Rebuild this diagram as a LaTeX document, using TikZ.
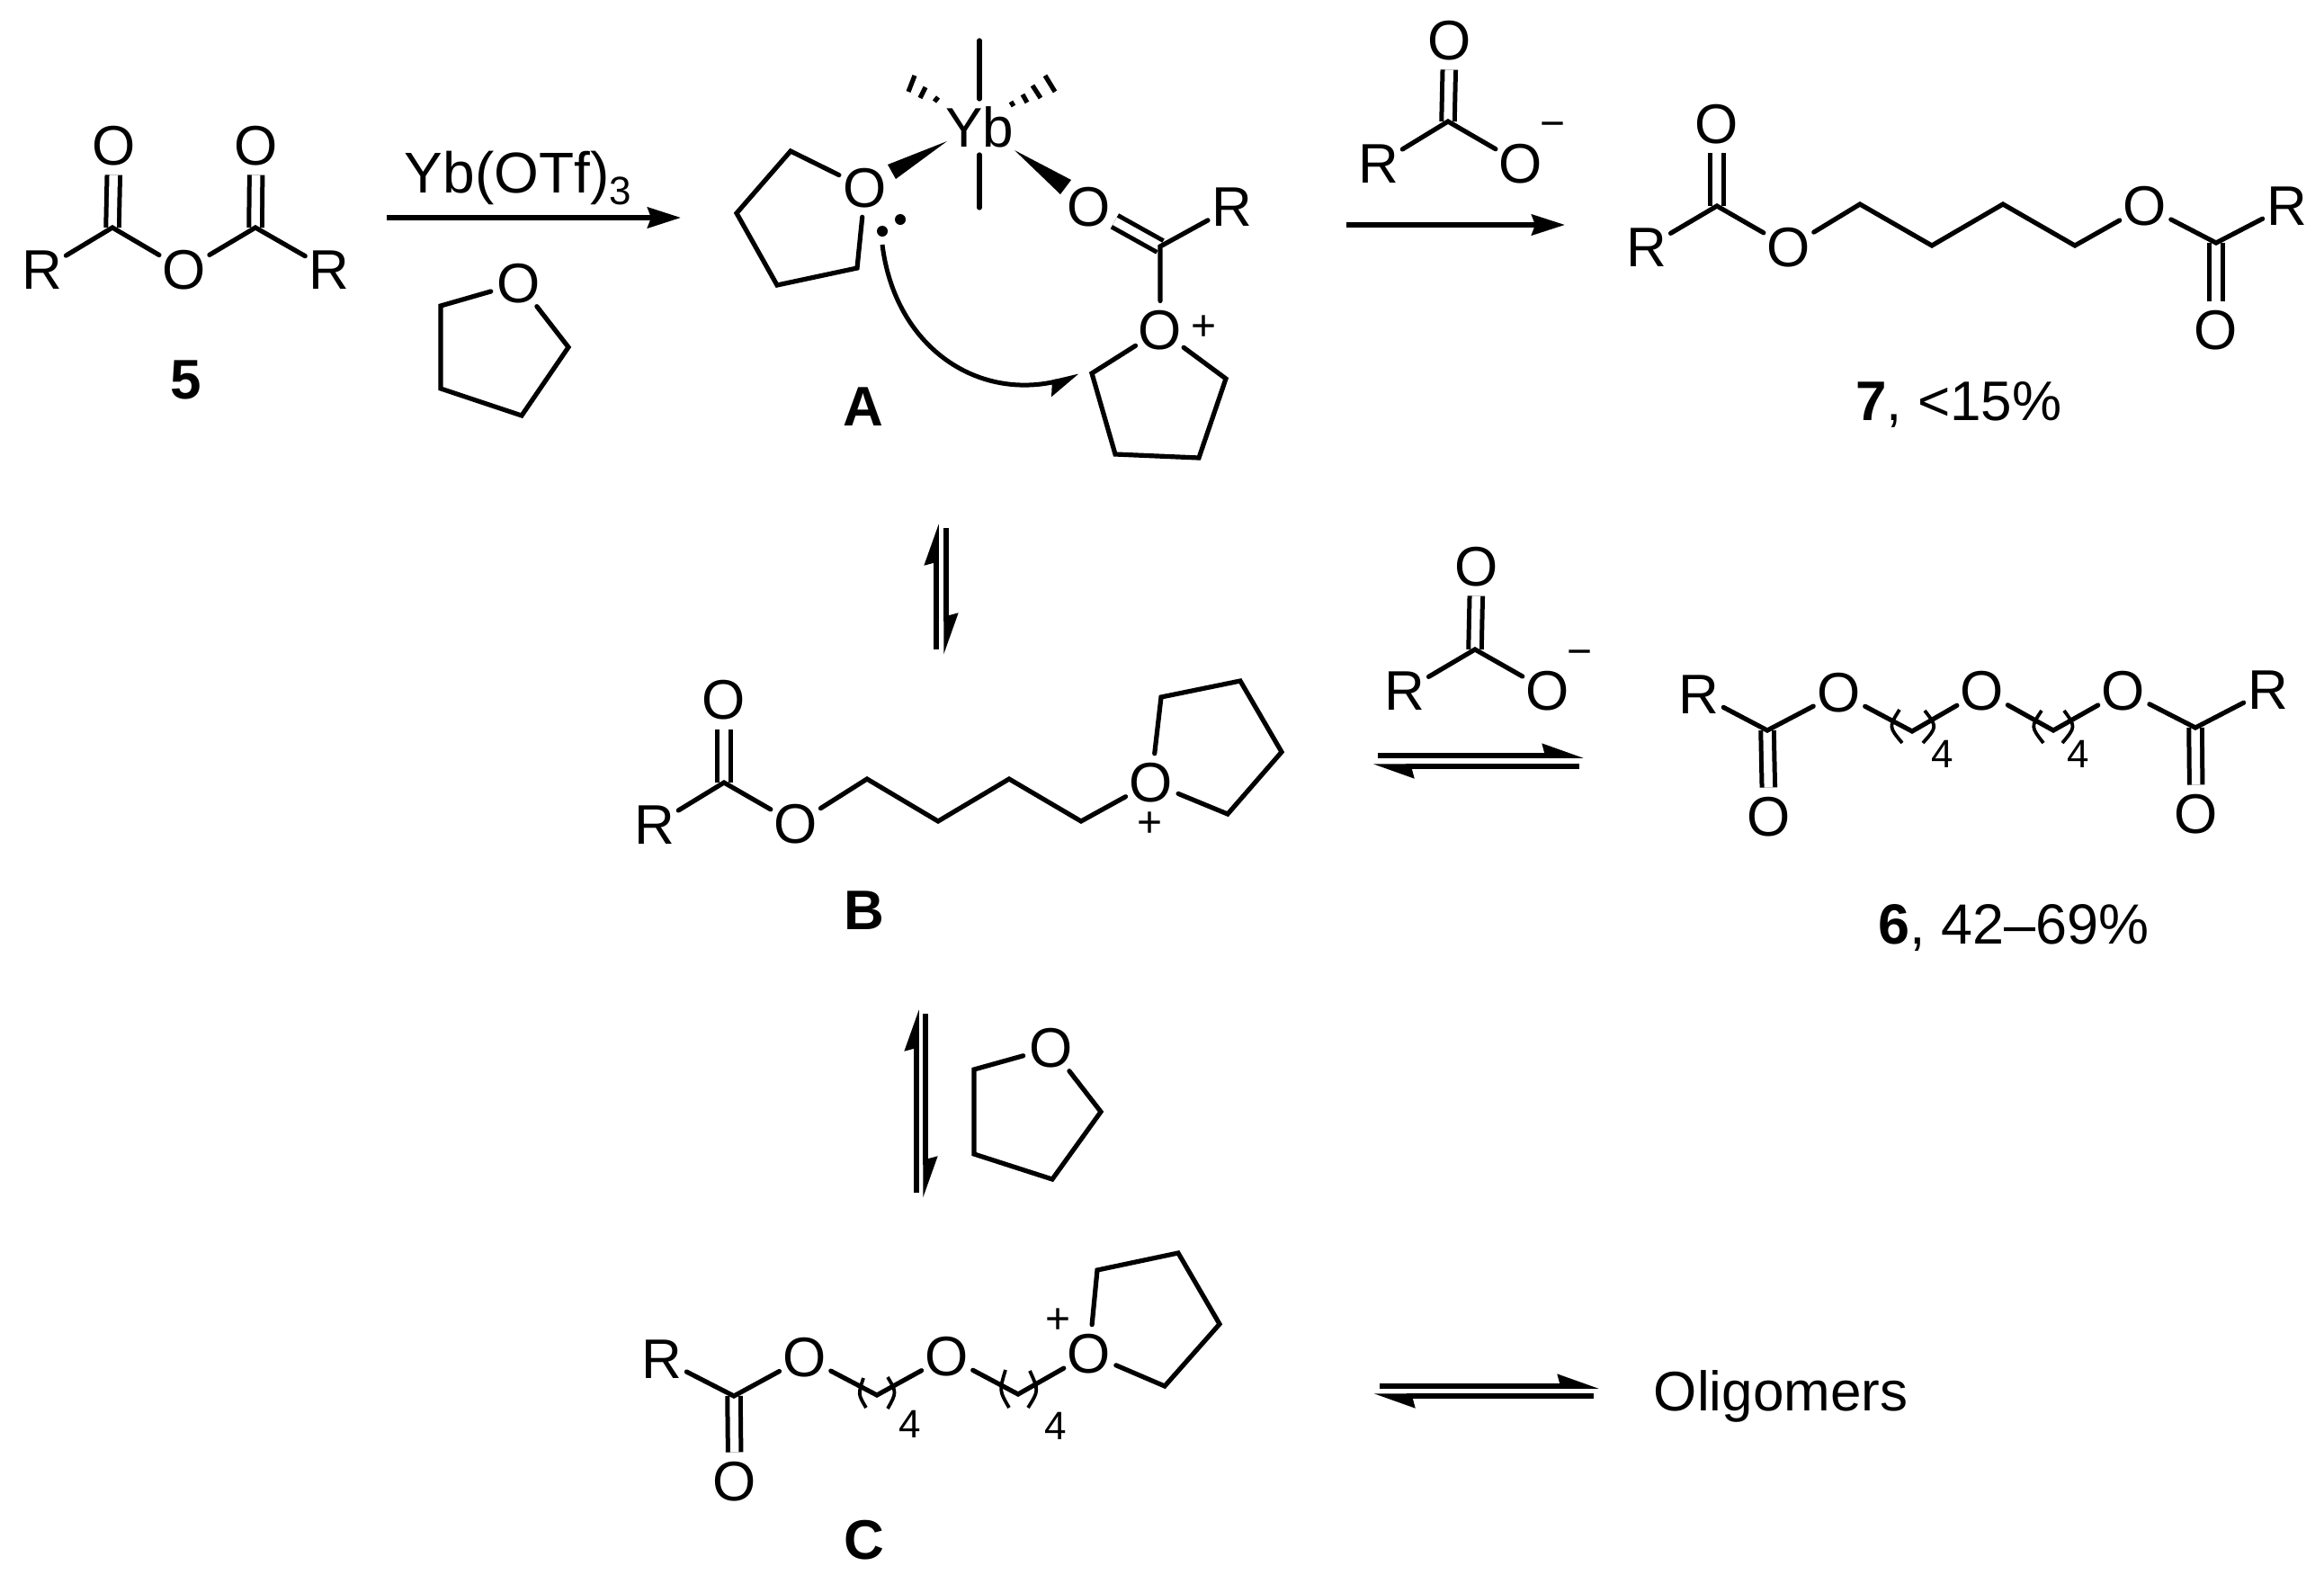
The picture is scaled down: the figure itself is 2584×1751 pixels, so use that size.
\documentclass[tikz,border=0pt]{standalone}
\usepackage{fontspec}
\setmainfont{Liberation Sans}
\usepackage{tikz}
\usetikzlibrary{arrows.meta}
\tikzset{
    atom/.style={
    circle,inner sep=0pt,outer sep=0pt,font=\fontsize{62}{74}\selectfont
    },
    label/.style={
    inner sep=0pt,font=\fontsize{62}{74}\selectfont
    },
    charge/.style={
    inner sep=0pt,font=\fontsize{48}{56}\selectfont
    },
    repeats/.style={
    inner sep=0pt,font=\fontsize{44}{52}\selectfont
    },
    bond/.style={
    line width=5.2pt,line cap=round,line join=miter
    },
    dbond/.style={
    line width=5pt,double,double distance=9.5pt
    },
    paren/.style={
    line width=3.8pt
    },
    rxn/.style={
    line width=5.5pt,-{Stealth[length=37pt,width=23pt,inset=4pt]}
    },
    eqm/.style={
    line width=5.5pt,-{Stealth[length=38pt,width=26pt,inset=3pt,harpoon]}
    },
    curly/.style={
    line width=5pt,-{Stealth[length=30pt,width=30pt,inset=4pt,harpoon,swap]}
    },
    lonepair/.style={
    circle,fill=black,inner sep=0pt,minimum size=12pt
    },
}
\begin{document}
\begin{tikzpicture}[x=1pt,y=-1pt]
  \useasboundingbox (0,0) rectangle (2584,1751);

  % anhydride 5
  \node[atom] (R5a) at (47,300) {R};
  \node[atom] (O5a) at (127,162) {O};
  \node[atom] (O5b) at (205,300) {O};
  \node[atom] (O5c) at (285,162) {O};
  \node[atom] (R5b) at (366,300) {R};
  \coordinate (C5a) at (125,253);
  \coordinate (C5b) at (284,253);
  \node[label,font=\fontsize{62}{74}\selectfont\bfseries] (L5) at (207,422) {5};
  \path (C5a) edge [dbond] (O5a)
        (C5b) edge [dbond] (O5c);
  \draw[bond] (R5a) -- (C5a) -- (O5b) -- (C5b) -- (R5b);

  % first arrow, catalyst and thf
  \coordinate (A1s) at (430,242);
  \coordinate (A1e) at (757,242);
  \draw[rxn] (A1s) -- (A1e);
  \node[label,font=\fontsize{64}{74}\selectfont] (cat) at (576,198) {Yb(OTf)\raisebox{-0.2em}{\fontsize{44}{50}\selectfont 3}};
  \node[atom] (Ot1) at (577,315) {O};
  \coordinate (t1a) at (490,340);
  \coordinate (t1b) at (490,432);
  \coordinate (t1c) at (580,462);
  \coordinate (t1d) at (632,386);
  \draw[bond] (Ot1) -- (t1a) -- (t1b) -- (t1c) -- (t1d) -- (Ot1);

  % complex A
  \node[label,inner ysep=8pt] (Yb) at (1089,141) {Yb};
  \coordinate (YbUp) at (1089,45);
  \coordinate (YbDn) at (1089,231);
  \path (Yb) edge [bond] (YbUp)
        (Yb) edge [bond] (YbDn);
  \foreach \xa/\ya/\xb/\yb in {1010/102/1017/84,1023/109/1029/97,1039/113/1043/108,
    1124/113/1127/118,1137/105/1142/114,1148/95/1157/109,1162/84/1173/102}
    \draw[bond,line cap=butt] (\xa,\ya) -- (\xb,\yb);
  \node[atom] (OA1) at (962,209) {O};
  \coordinate (a1) at (879,168);
  \coordinate (a2) at (819,237);
  \coordinate (a3) at (864,317);
  \coordinate (a4) at (953,298);
  \draw[bond] (OA1) -- (a1) -- (a2) -- (a3) -- (a4) -- (OA1);
  \coordinate (wa) at (1053,157);
  \coordinate (wb) at (987,183);
  \coordinate (wc) at (996,199);
  \fill (wa) -- (wb) -- (wc) -- cycle;
  \coordinate (wd) at (1128,167);
  \coordinate (we) at (1191,200);
  \coordinate (wf) at (1179,216);
  \fill (wd) -- (we) -- (wf) -- cycle;
  \node[lonepair] (lp1) at (1001,244) {};
  \node[lonepair] (lp2) at (981,257) {};
  \node[atom] (OA2) at (1211,230) {O};
  \node[atom] (RA) at (1370,230) {R};
  \coordinate (CA) at (1290,274);
  \node[atom] (OA3) at (1290,367) {O};
  \node[charge] (pA) at (1339,365) {+};
  \coordinate (a5) at (1214,415);
  \coordinate (a6) at (1240,505);
  \coordinate (a7) at (1333,509);
  \coordinate (a8) at (1363,421);
  \path (CA) edge [dbond] (OA2);
  \draw[bond] (RA) -- (CA) -- (OA3);
  \draw[bond] (OA3) -- (a5) -- (a6) -- (a7) -- (a8) -- (OA3);
  \coordinate (ca) at (981,272);
  \coordinate (cb) at (1200,418);
  \draw[curly] (ca) .. controls (995,385) and (1085,445) .. (cb);
  \node[label,font=\fontsize{62}{74}\selectfont\bfseries] (LA) at (960,452) {A};

  % carboxylate and product 7
  \node[atom] (R7x) at (1533,182) {R};
  \node[atom] (O7x) at (1612,45) {O};
  \node[atom] (O7y) at (1691,182) {O};
  \coordinate (C7x) at (1610,135);
  \node[charge] (m7) at (1726,145) {−};
  \path (C7x) edge [dbond] (O7x);
  \draw[bond] (R7x) -- (C7x) -- (O7y);
  \coordinate (A2s) at (1497,250);
  \coordinate (A2e) at (1740,250);
  \draw[rxn] (A2s) -- (A2e);
  \node[atom] (R7a) at (1831,275) {R};
  \node[atom] (O7a) at (1909,138) {O};
  \node[atom] (O7b) at (1989,275) {O};
  \node[atom] (O7c) at (2385,229) {O};
  \node[atom] (R7b) at (2543,229) {R};
  \node[atom] (O7d) at (2464,367) {O};
  \coordinate (C7a) at (1909,229);
  \coordinate (C7b) at (2464,270);
  \coordinate (c71) at (2068,227);
  \coordinate (c72) at (2148,273);
  \coordinate (c73) at (2227,227);
  \coordinate (c74) at (2307,273);
  \path (C7a) edge [dbond] (O7a)
        (C7b) edge [dbond] (O7d);
  \draw[bond] (R7a) -- (C7a) -- (O7b) -- (c71) -- (c72) -- (c73) -- (c74) -- (O7c) -- (C7b) -- (R7b);
  \node[label] (L7) at (2178,450) {\textbf{7}, <15\%};

  % equilibrium A to B
  \coordinate (E1a) at (1041,722);
  \coordinate (E1b) at (1041,582);
  \coordinate (E1c) at (1052,587);
  \coordinate (E1d) at (1052,728);
  \draw[eqm] (E1a) -- (E1b);
  \draw[eqm] (E1c) -- (E1d);

  % oxonium B
  \node[atom] (RB) at (728,917) {R};
  \node[atom] (OB1) at (805,778) {O};
  \node[atom] (OB2) at (885,916) {O};
  \node[atom] (OB3) at (1280,870) {O};
  \node[charge] (pB) at (1279,917) {+};
  \coordinate (CB) at (805,870);
  \coordinate (b1) at (964,866);
  \coordinate (b2) at (1043,913);
  \coordinate (b3) at (1122,866);
  \coordinate (b4) at (1202,913);
  \coordinate (b5) at (1291,775);
  \coordinate (b6) at (1379,757);
  \coordinate (b7) at (1425,836);
  \coordinate (b8) at (1365,905);
  \path (CB) edge [dbond] (OB1);
  \draw[bond] (RB) -- (CB) -- (OB2) -- (b1) -- (b2) -- (b3) -- (b4) -- (OB3);
  \draw[bond] (OB3) -- (b5) -- (b6) -- (b7) -- (b8) -- (OB3);
  \node[label,font=\fontsize{62}{74}\selectfont\bfseries] (LB) at (961,1012) {B};

  % carboxylate and equilibrium to 6
  \node[atom] (R6x) at (1562,768) {R};
  \node[atom] (O6x) at (1642,630) {O};
  \node[atom] (O6y) at (1721,768) {O};
  \coordinate (C6x) at (1640,722);
  \node[charge] (m6) at (1756,732) {−};
  \path (C6x) edge [dbond] (O6x);
  \draw[bond] (R6x) -- (C6x) -- (O6y);
  \coordinate (E2a) at (1532,840);
  \coordinate (E2b) at (1761,840);
  \coordinate (E2c) at (1756,852);
  \coordinate (E2d) at (1526,852);
  \draw[eqm] (E2a) -- (E2b);
  \draw[eqm] (E2c) -- (E2d);

  % product 6
  \node[atom] (R6a) at (1889,772) {R};
  \node[atom] (O6a) at (1967,908) {O};
  \node[atom] (O6b) at (2045,770) {O};
  \node[atom] (O6c) at (2204,768) {O};
  \node[atom] (O6d) at (2361,768) {O};
  \node[atom] (O6e) at (2442,905) {O};
  \node[atom] (R6b) at (2522,767) {R};
  \coordinate (C6a) at (1965,812);
  \coordinate (C6b) at (2441,809);
  \coordinate (c61) at (2126,813);
  \coordinate (c62) at (2283,812);
  \path (C6a) edge [dbond] (O6a)
        (C6b) edge [dbond] (O6e);
  \draw[bond] (R6a) -- (C6a) -- (O6b) -- (c61) -- (O6c) -- (c62) -- (O6d) -- (C6b) -- (R6b);
  \draw[paren] (2112,789) .. controls (2100,808) .. (2115,826);
  \draw[paren] (2140,790) .. controls (2154,808) .. (2138,826);
  \draw[paren] (2270,790) .. controls (2258,808) .. (2272,826);
  \draw[paren] (2295,790) .. controls (2308,808) .. (2293,826);
  \node[repeats] (n6a) at (2160,838) {4};
  \node[repeats] (n6b) at (2311,838) {4};
  \node[label,font=\fontsize{63}{74}\selectfont] (L6) at (2239,1032) {\textbf{6}, 42–69\%};

  % equilibrium B to C with thf
  \coordinate (E3a) at (1019,1326);
  \coordinate (E3b) at (1019,1122);
  \coordinate (E3c) at (1029,1127);
  \coordinate (E3d) at (1029,1332);
  \draw[eqm] (E3a) -- (E3b);
  \draw[eqm] (E3c) -- (E3d);
  \node[atom] (Ot2) at (1169,1165) {O};
  \coordinate (t2a) at (1083,1189);
  \coordinate (t2b) at (1083,1283);
  \coordinate (t2c) at (1170,1311);
  \coordinate (t2d) at (1224,1236);
  \draw[bond] (Ot2) -- (t2a) -- (t2b) -- (t2c) -- (t2d) -- (Ot2);

  % oxonium C
  \node[atom] (RC) at (736,1511) {R};
  \node[atom] (OC1) at (817,1647) {O};
  \node[atom] (OC2) at (895,1509) {O};
  \node[atom] (OC3) at (1053,1508) {O};
  \node[atom] (OC4) at (1211,1505) {O};
  \node[charge] (pC) at (1177,1469) {+};
  \coordinate (CC) at (816,1552);
  \coordinate (d1) at (975,1551);
  \coordinate (d2) at (1132,1550);
  \coordinate (d3) at (1220,1412);
  \coordinate (d4) at (1310,1393);
  \coordinate (d5) at (1356,1472);
  \coordinate (d6) at (1295,1541);
  \path (CC) edge [dbond] (OC1);
  \draw[bond] (RC) -- (CC) -- (OC2) -- (d1) -- (OC3) -- (d2) -- (OC4);
  \draw[bond] (OC4) -- (d3) -- (d4) -- (d5) -- (d6) -- (OC4);
  \draw[paren] (960,1532) .. controls (954,1550) .. (963,1565);
  \draw[paren] (987,1531) .. controls (997,1548) .. (987,1566);
  \draw[paren] (1118,1523) .. controls (1111,1546) .. (1122,1565);
  \draw[paren] (1145,1524) .. controls (1155,1546) .. (1143,1565);
  \node[repeats] (nCa) at (1012,1583) {4};
  \node[repeats] (nCb) at (1174,1585) {4};
  \node[label,font=\fontsize{62}{74}\selectfont\bfseries] (LC) at (961,1712) {C};

  % equilibrium to oligomers
  \coordinate (E4a) at (1534,1541);
  \coordinate (E4b) at (1778,1541);
  \coordinate (E4c) at (1772,1552);
  \coordinate (E4d) at (1527,1552);
  \draw[eqm] (E4a) -- (E4b);
  \draw[eqm] (E4c) -- (E4d);
  \node[label] (olig) at (1980,1552) {Oligomers};
\end{tikzpicture}
\end{document}
